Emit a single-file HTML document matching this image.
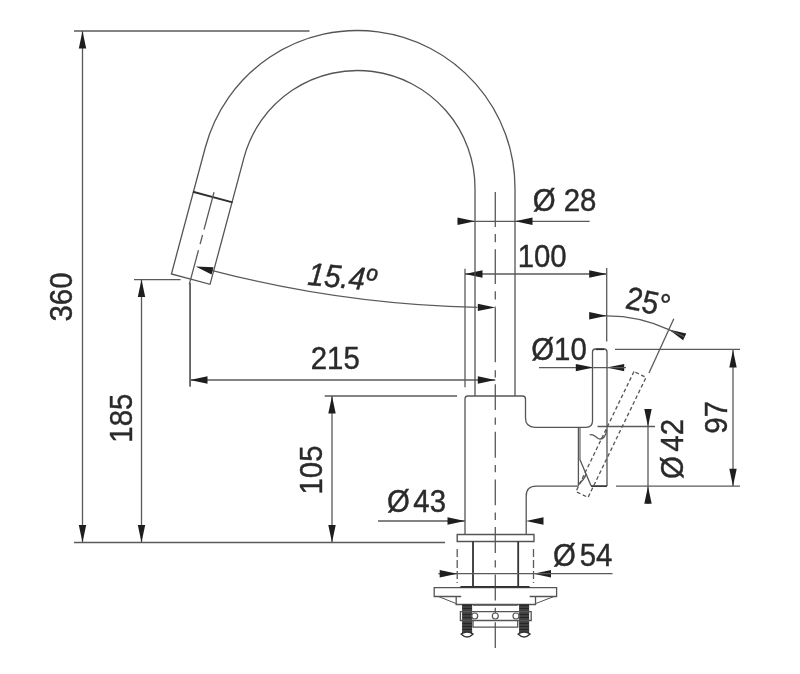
<!DOCTYPE html>
<html><head><meta charset="utf-8"><style>
html,body{margin:0;padding:0;background:#fff;}
svg{display:block;filter:blur(0.35px);}
text{font-family:"Liberation Sans",sans-serif;}
</style></head><body>
<svg width="800" height="674" viewBox="0 0 800 674">
<rect width="800" height="674" fill="#fff"/>
<line x1="74.00" y1="31.00" x2="309.50" y2="31.00" stroke="#5a5a5a" stroke-width="1.3" />
<line x1="82.50" y1="31.00" x2="82.50" y2="542.50" stroke="#5a5a5a" stroke-width="1.3" />
<path d="M82.50 31.00 L86.20 48.50 L78.80 48.50 Z" fill="#1e1e1e"/>
<path d="M82.50 542.50 L78.80 525.00 L86.20 525.00 Z" fill="#1e1e1e"/>
<line x1="74.00" y1="542.50" x2="445.00" y2="542.50" stroke="#5a5a5a" stroke-width="1.3" />
<g transform="translate(71.74 297.00) rotate(-90) scale(0.98 1.07)"><text x="0" y="0" font-size="30" text-anchor="middle" fill="#2a2a2a" stroke="#2a2a2a" stroke-width="0.4" >360</text></g>
<line x1="134.00" y1="279.60" x2="180.60" y2="279.60" stroke="#5a5a5a" stroke-width="1.3" />
<line x1="141.50" y1="279.60" x2="141.50" y2="542.50" stroke="#5a5a5a" stroke-width="1.3" />
<path d="M141.50 279.60 L145.20 297.10 L137.80 297.10 Z" fill="#1e1e1e"/>
<path d="M141.50 542.50 L137.80 525.00 L145.20 525.00 Z" fill="#1e1e1e"/>
<g transform="translate(131.50 418.14) rotate(-90) scale(0.98 1.07)"><text x="0" y="0" font-size="30" text-anchor="middle" fill="#2a2a2a" stroke="#2a2a2a" stroke-width="0.4" >185</text></g>
<line x1="190.00" y1="283.00" x2="190.00" y2="386.60" stroke="#5a5a5a" stroke-width="1.3" />
<line x1="190.00" y1="380.00" x2="495.30" y2="380.00" stroke="#5a5a5a" stroke-width="1.3" />
<path d="M190.00 380.00 L207.50 376.30 L207.50 383.70 Z" fill="#1e1e1e"/>
<path d="M495.30 380.00 L477.80 383.70 L477.80 376.30 Z" fill="#1e1e1e"/>
<g transform="translate(335.30 369.30) rotate(0) scale(0.98 1.07)"><text x="0" y="0" font-size="30" text-anchor="middle" fill="#2a2a2a" stroke="#2a2a2a" stroke-width="0.4" >215</text></g>
<line x1="324.70" y1="396.00" x2="457.00" y2="396.00" stroke="#5a5a5a" stroke-width="1.3" />
<line x1="332.00" y1="396.00" x2="332.00" y2="542.50" stroke="#5a5a5a" stroke-width="1.3" />
<path d="M332.00 396.00 L335.70 413.50 L328.30 413.50 Z" fill="#1e1e1e"/>
<path d="M332.00 542.50 L328.30 525.00 L335.70 525.00 Z" fill="#1e1e1e"/>
<g transform="translate(321.80 470.00) rotate(-90) scale(0.98 1.07)"><text x="0" y="0" font-size="30" text-anchor="middle" fill="#2a2a2a" stroke="#2a2a2a" stroke-width="0.4" >105</text></g>
<line x1="378.00" y1="521.00" x2="465.00" y2="521.00" stroke="#5a5a5a" stroke-width="1.3" />
<path d="M465.00 521.00 L447.50 524.70 L447.50 517.30 Z" fill="#1e1e1e"/>
<path d="M526.00 521.00 L543.50 517.30 L543.50 524.70 Z" fill="#1e1e1e"/>
<g transform="translate(416.50 512.00) rotate(0) scale(0.98 1.07)"><text x="0" y="0" font-size="30" text-anchor="middle" fill="#2a2a2a" stroke="#2a2a2a" stroke-width="0.4" >Ø<tspan dx="3.5">43</tspan></text></g>
<line x1="438.30" y1="573.70" x2="457.20" y2="573.70" stroke="#5a5a5a" stroke-width="1.3" />
<path d="M457.20 573.70 L439.70 577.40 L439.70 570.00 Z" fill="#1e1e1e"/>
<path d="M533.50 573.70 L551.00 570.00 L551.00 577.40 Z" fill="#1e1e1e"/>
<line x1="533.50" y1="573.70" x2="612.50" y2="573.70" stroke="#5a5a5a" stroke-width="1.3" />
<g transform="translate(582.70 566.00) rotate(0) scale(0.98 1.07)"><text x="0" y="0" font-size="30" text-anchor="middle" fill="#2a2a2a" stroke="#2a2a2a" stroke-width="0.4" >Ø<tspan dx="4">54</tspan></text></g>
<line x1="457.50" y1="221.30" x2="589.60" y2="221.30" stroke="#5a5a5a" stroke-width="1.3" />
<path d="M475.00 221.30 L457.50 225.00 L457.50 217.60 Z" fill="#1e1e1e"/>
<path d="M515.00 221.30 L532.50 217.60 L532.50 225.00 Z" fill="#1e1e1e"/>
<g transform="translate(564.50 211.00) rotate(0) scale(0.98 1.07)"><text x="0" y="0" font-size="30" text-anchor="middle" fill="#2a2a2a" stroke="#2a2a2a" stroke-width="0.4" >Ø 28</text></g>
<line x1="465.00" y1="268.70" x2="465.00" y2="387.20" stroke="#5a5a5a" stroke-width="1.3" />
<line x1="606.70" y1="268.00" x2="606.70" y2="341.50" stroke="#5a5a5a" stroke-width="1.3" />
<line x1="465.00" y1="274.00" x2="606.70" y2="274.00" stroke="#5a5a5a" stroke-width="1.3" />
<path d="M465.00 274.00 L482.50 270.30 L482.50 277.70 Z" fill="#1e1e1e"/>
<path d="M606.70 274.00 L589.20 277.70 L589.20 270.30 Z" fill="#1e1e1e"/>
<g transform="translate(542.20 266.86) rotate(0) scale(0.98 1.07)"><text x="0" y="0" font-size="30" text-anchor="middle" fill="#2a2a2a" stroke="#2a2a2a" stroke-width="0.4" >100</text></g>
<path d="M606.70 315.80 A147 147 0 0 1 668.82 329.57" fill="none" stroke="#5a5a5a" stroke-width="1.3" />
<line x1="589.70" y1="315.80" x2="606.70" y2="315.80" stroke="#5a5a5a" stroke-width="1.3" />
<path d="M606.70 315.80 L589.20 319.50 L589.20 312.10 Z" fill="#1e1e1e"/>
<path d="M668.82 329.57 L686.25 333.62 L683.12 340.32 Z" fill="#1e1e1e"/>
<line x1="668.82" y1="329.57" x2="684.23" y2="336.76" stroke="#5a5a5a" stroke-width="1.3" />
<line x1="673.80" y1="318.80" x2="649.00" y2="373.00" stroke="#5a5a5a" stroke-width="1.3" />
<g transform="translate(645.90 312.60) rotate(12) scale(0.98 1.07)"><text x="0" y="0" font-size="30" text-anchor="middle" fill="#2a2a2a" stroke="#2a2a2a" stroke-width="0.4" >25°</text></g>
<line x1="539.00" y1="367.60" x2="593.30" y2="367.60" stroke="#5a5a5a" stroke-width="1.3" />
<path d="M593.30 367.60 L575.80 371.30 L575.80 363.90 Z" fill="#1e1e1e"/>
<path d="M606.70 367.60 L624.20 363.90 L624.20 371.30 Z" fill="#1e1e1e"/>
<line x1="593.30" y1="367.60" x2="626.00" y2="367.60" stroke="#5a5a5a" stroke-width="1.3" />
<g transform="translate(559.00 359.50) rotate(0) scale(0.98 1.07)"><text x="0" y="0" font-size="30" text-anchor="middle" fill="#2a2a2a" stroke="#2a2a2a" stroke-width="0.4" >Ø10</text></g>
<line x1="615.00" y1="349.30" x2="740.00" y2="349.30" stroke="#5a5a5a" stroke-width="1.3" />
<line x1="616.00" y1="486.20" x2="740.00" y2="486.20" stroke="#5a5a5a" stroke-width="1.3" />
<line x1="733.00" y1="349.30" x2="733.00" y2="486.20" stroke="#5a5a5a" stroke-width="1.3" />
<path d="M733.00 350.00 L736.70 367.50 L729.30 367.50 Z" fill="#1e1e1e"/>
<path d="M733.00 486.20 L729.30 468.70 L736.70 468.70 Z" fill="#1e1e1e"/>
<g transform="translate(726.80 417.30) rotate(-90) scale(0.98 1.07)"><text x="0" y="0" font-size="30" text-anchor="middle" fill="#2a2a2a" stroke="#2a2a2a" stroke-width="0.4" >97</text></g>
<line x1="597.50" y1="426.50" x2="655.00" y2="426.50" stroke="#5a5a5a" stroke-width="1.3" />
<line x1="648.00" y1="410.00" x2="648.00" y2="504.00" stroke="#5a5a5a" stroke-width="1.3" />
<path d="M648.00 426.50 L644.30 409.00 L651.70 409.00 Z" fill="#1e1e1e"/>
<path d="M648.00 486.20 L651.70 503.70 L644.30 503.70 Z" fill="#1e1e1e"/>
<g transform="translate(682.80 449.00) rotate(-90) scale(0.98 1.07)"><text x="0" y="0" font-size="30" text-anchor="middle" fill="#2a2a2a" stroke="#2a2a2a" stroke-width="0.4" >Ø<tspan dx="4.5">42</tspan></text></g>
<path d="M211.5 270.3 A1150 1150 0 0 0 477.4 307.4" fill="none" stroke="#5a5a5a" stroke-width="1.3" />
<path d="M195.60 266.50 L213.47 267.25 L211.64 274.42 Z" fill="#1e1e1e"/>
<path d="M495.30 307.40 L477.80 311.10 L477.80 303.70 Z" fill="#1e1e1e"/>
<g transform="translate(340.92 287.90) rotate(5.5) scale(0.98 1.07)"><text x="0" y="0" font-size="30" text-anchor="middle" fill="#2a2a2a" stroke="#2a2a2a" stroke-width="0.4" font-style="italic" >15.4º</text></g>
<path d="M515 396 V188 A157.5 157.5 0 0 0 205.37 147.24 L171.41 273.97 L210.05 284.32 L244.00 157.59 A117.5 117.5 0 0 1 475 188 V396" fill="none" stroke="#555555" stroke-width="1.3" />
<line x1="192.93" y1="191.73" x2="232.53" y2="202.34" stroke="#303030" stroke-width="1.9" />
<line x1="214.02" y1="192.21" x2="189.30" y2="284.45" stroke="#5a5a5a" stroke-width="1.3" stroke-dasharray="38.8 5.5 9.5 6.3"/>
<line x1="190.20" y1="283.00" x2="190.20" y2="386.60" stroke="#5a5a5a" stroke-width="1.3" />
<line x1="495.30" y1="192.10" x2="495.30" y2="307.40" stroke="#5a5a5a" stroke-width="1.3" stroke-dasharray="34.8 7.1 8.3 7"/>
<line x1="495.30" y1="307.40" x2="495.30" y2="362.30" stroke="#5a5a5a" stroke-width="1.3" />
<line x1="495.30" y1="370.30" x2="495.30" y2="377.40" stroke="#5a5a5a" stroke-width="1.3" />
<line x1="495.30" y1="384.20" x2="495.30" y2="648.10" stroke="#5a5a5a" stroke-width="1.3" stroke-dasharray="25.9 7.3 7.3 7.1"/>
<path d="M465 535 V399 Q465 396 468 396 H522.5 Q525.5 396 525.5 399 V418 Q525.5 427.3 535 427.3 H586 Q592.5 427.3 592.5 421 V352 Q592.5 349 595.5 349 H604 Q607 349 607 352 V486" fill="none" stroke="#555555" stroke-width="1.3" />
<line x1="596.00" y1="349.30" x2="604.00" y2="349.30" stroke="#303030" stroke-width="1.6" />
<path d="M526.2 535 V496 Q526.2 486.1 536.2 486.1 H578.4" fill="none" stroke="#555555" stroke-width="1.3" />
<line x1="578.40" y1="427.30" x2="578.40" y2="486.10" stroke="#555555" stroke-width="1.3" />
<line x1="580.00" y1="427.30" x2="580.00" y2="459.00" stroke="#555555" stroke-width="1.1" />
<path d="M579.7 459.1 L591 485.8" fill="none" stroke="#555555" stroke-width="1.3" />
<path d="M589.7 435 C592.5 433 595 436.5 598 438.5 C603 440.5 606 436 606.7 429.7" fill="none" stroke="#555555" stroke-width="1.3" />
<path d="M579 483.8 Q584 480 586.4 473.8" fill="none" stroke="#555555" stroke-width="1.3" />
<line x1="591.00" y1="486.10" x2="607.00" y2="486.10" stroke="#303030" stroke-width="1.7" />
<path d="M633.97 371.58 L575.97 491.58 L588.03 497.42 L646.03 377.42 Z" fill="none" stroke="#555555" stroke-width="1.3" stroke-dasharray="3.8 2.6" stroke-linejoin="round"/>
<path d="M457.2 534.5 H534 V541.5 H457.2 Z" fill="none" stroke="#555555" stroke-width="1.4" />
<line x1="473.00" y1="541.50" x2="473.00" y2="587.40" stroke="#333" stroke-width="1.8" />
<line x1="518.20" y1="541.50" x2="518.20" y2="587.40" stroke="#333" stroke-width="1.8" />
<line x1="457.20" y1="549.00" x2="457.20" y2="583.00" stroke="#5a5a5a" stroke-width="1.3" stroke-dasharray="8 3"/>
<line x1="533.50" y1="549.00" x2="533.50" y2="583.00" stroke="#5a5a5a" stroke-width="1.3" stroke-dasharray="8 3"/>
<line x1="457.20" y1="573.70" x2="533.50" y2="573.70" stroke="#5a5a5a" stroke-width="1.3" />
<path d="M461.2 596.5 H434.2 V587.6 H556.6 V596.5 H529.6" fill="none" stroke="#555555" stroke-width="1.3" />
<line x1="460.40" y1="586.90" x2="529.60" y2="586.90" stroke="#303030" stroke-width="1.6" />
<path d="M456.2 596.5 V604.5 H535.5 V596.5" fill="none" stroke="#555555" stroke-width="1.3" />
<line x1="438.40" y1="596.50" x2="456.20" y2="603.60" stroke="#555555" stroke-width="1.0" />
<line x1="554.00" y1="596.50" x2="535.50" y2="603.60" stroke="#555555" stroke-width="1.0" />
<rect x="462.1" y="604.5" width="10" height="31" fill="#262626"/>
<line x1="462.1" y1="607" x2="472.1" y2="607" stroke="#777" stroke-width="0.7"/>
<line x1="462.1" y1="610" x2="472.1" y2="610" stroke="#777" stroke-width="0.7"/>
<line x1="462.1" y1="613" x2="472.1" y2="613" stroke="#777" stroke-width="0.7"/>
<line x1="462.1" y1="616" x2="472.1" y2="616" stroke="#777" stroke-width="0.7"/>
<line x1="462.1" y1="619" x2="472.1" y2="619" stroke="#777" stroke-width="0.7"/>
<line x1="462.1" y1="622" x2="472.1" y2="622" stroke="#777" stroke-width="0.7"/>
<line x1="462.1" y1="625" x2="472.1" y2="625" stroke="#777" stroke-width="0.7"/>
<line x1="462.1" y1="628" x2="472.1" y2="628" stroke="#777" stroke-width="0.7"/>
<line x1="462.1" y1="631" x2="472.1" y2="631" stroke="#777" stroke-width="0.7"/>
<path d="M461.1 634 Q467.1 630 473.1 634 Q467.1 640 461.1 634 Z" fill="#fff" stroke="#333" stroke-width="1.3"/>
<rect x="519.1" y="604.5" width="10" height="31" fill="#262626"/>
<line x1="519.1" y1="607" x2="529.1" y2="607" stroke="#777" stroke-width="0.7"/>
<line x1="519.1" y1="610" x2="529.1" y2="610" stroke="#777" stroke-width="0.7"/>
<line x1="519.1" y1="613" x2="529.1" y2="613" stroke="#777" stroke-width="0.7"/>
<line x1="519.1" y1="616" x2="529.1" y2="616" stroke="#777" stroke-width="0.7"/>
<line x1="519.1" y1="619" x2="529.1" y2="619" stroke="#777" stroke-width="0.7"/>
<line x1="519.1" y1="622" x2="529.1" y2="622" stroke="#777" stroke-width="0.7"/>
<line x1="519.1" y1="625" x2="529.1" y2="625" stroke="#777" stroke-width="0.7"/>
<line x1="519.1" y1="628" x2="529.1" y2="628" stroke="#777" stroke-width="0.7"/>
<line x1="519.1" y1="631" x2="529.1" y2="631" stroke="#777" stroke-width="0.7"/>
<path d="M518.1 634 Q524.1 630 530.1 634 Q524.1 640 518.1 634 Z" fill="#fff" stroke="#333" stroke-width="1.3"/>
<path d="M460.4 611.6 H531.2 V620.5 H460.4 Z" fill="none" stroke="#555555" stroke-width="1.3" />
<path d="M473 620.5 V627.2 H517.7 V620.5" fill="none" stroke="#555555" stroke-width="1.3" />
<line x1="473.00" y1="605.30" x2="517.70" y2="605.30" stroke="#555555" stroke-width="1.0" />
<circle cx="474.7" cy="616" r="3" fill="#fff" stroke="#555555" stroke-width="1.2"/>
<circle cx="495.3" cy="616" r="3" fill="#fff" stroke="#555555" stroke-width="1.2"/>
<circle cx="516" cy="616" r="3" fill="#fff" stroke="#555555" stroke-width="1.2"/>
</svg></body></html>
